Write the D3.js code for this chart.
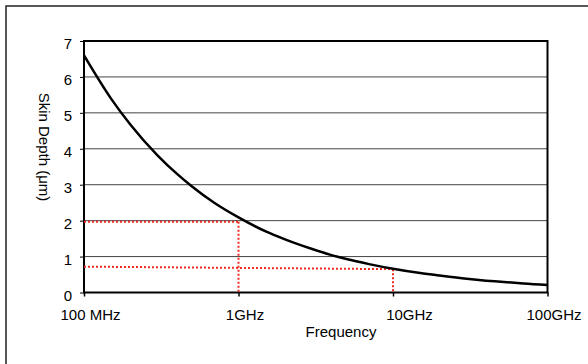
<!DOCTYPE html>
<html>
<head>
<meta charset="utf-8">
<script src="https://cdn.jsdelivr.net/npm/d3@7"></script>
<style>
  body { margin: 0; background: #fff; }
  svg { display: block; font-family: "Liberation Sans", Arial, sans-serif; }
</style>
</head>
<body>
<div id="chart"></div>
<script>
// frequency in GHz, skin depth in um
const freqGHz = [0.1, 0.15, 0.2, 0.3, 0.4, 0.5, 0.7, 1, 1.5, 2, 3, 4, 5, 7, 10, 15, 20, 30, 40, 50, 70, 100];
const depthUm = [6.6, 5.39, 4.67, 3.81, 3.3, 2.95, 2.49, 2.09, 1.7, 1.48, 1.21, 1.04, 0.93, 0.79, 0.66, 0.54, 0.47, 0.38, 0.33, 0.3, 0.25, 0.21];

const xTicks = [0.1, 1, 10, 100];
const xTickLabels = ['100 MHz', '1GHz', '10GHz', '100GHz'];
const yTicks = [0, 1, 2, 3, 4, 5, 6, 7];

// red dotted read-off guides: [freq at start, depth at start, freq at end, depth at end]
const guides = [
  [0.1, 1.97, 1, 1.97],
  [1, 1.97, 1, 0],
  [0.1, 0.72, 10, 0.65],
  [10, 0.65, 10, 0]
];

const W = 588, H = 364;
const svg = d3.select('#chart').append('svg')
  .attr('width', W)
  .attr('height', H);

svg.append('rect').attr('width', W).attr('height', H).attr('fill', '#fff');

// outer chart frame (runs off the right/bottom edge)
svg.append('rect')
  .attr('x', 6).attr('y', 6)
  .attr('width', 700).attr('height', 500)
  .attr('fill', 'none')
  .attr('stroke', '#222')
  .attr('stroke-width', 1.5);

const x = d3.scaleLog().domain([0.1, 100]).range([84, 547.5]);
const y = d3.scaleLinear().domain([0, 7]).range([292.5, 41]);

// gridlines
svg.append('g')
  .selectAll('line')
  .data(yTicks.filter(d => d > 0 && d < 7))
  .enter()
  .append('line')
  .attr('x1', x(0.1)).attr('x2', x(100))
  .attr('y1', d => y(d)).attr('y2', d => y(d))
  .attr('stroke', '#444')
  .attr('stroke-width', 1);

// y axis
const yAxis = d3.axisLeft(y).tickValues(yTicks).tickFormat(d3.format('d')).tickSize(4).tickPadding(8);
const gy = svg.append('g')
  .attr('transform', `translate(${x(0.1)},0)`)
  .call(yAxis);
gy.select('.domain').remove();
gy.selectAll('.tick line').attr('stroke', '#000');
gy.selectAll('.tick text')
  .attr('font-size', 15)
  .attr('fill', '#000')
  .attr('dy', '0.5em');

// x axis
const labelDx = { '10GHz': 16 };
const xAxis = d3.axisBottom(x)
  .tickValues(xTicks)
  .tickFormat((d, i) => xTickLabels[i])
  .tickSize(4)
  .tickPadding(13);
const gx = svg.append('g')
  .attr('transform', `translate(0,${y(0)})`)
  .call(xAxis);
gx.select('.domain').remove();
gx.selectAll('.tick line').attr('stroke', '#000').attr('stroke-width', 1.5);
gx.selectAll('.tick text')
  .attr('font-size', 15)
  .attr('fill', '#000')
  .attr('dx', (d, i) => labelDx[xTickLabels[i]] || 6);

// plot border
svg.append('rect')
  .attr('x', x(0.1)).attr('y', y(7))
  .attr('width', x(100) - x(0.1))
  .attr('height', y(0) - y(7))
  .attr('fill', 'none')
  .attr('stroke', '#000')
  .attr('stroke-width', 2);

// red guides
svg.append('g')
  .selectAll('line')
  .data(guides)
  .enter()
  .append('line')
  .attr('x1', d => x(d[0])).attr('y1', d => y(d[1]))
  .attr('x2', d => x(d[2])).attr('y2', d => y(d[3]))
  .attr('stroke', '#ee2a22')
  .attr('stroke-width', 2)
  .attr('stroke-dasharray', '2,2');

// curve
const line = d3.line()
  .x((d, i) => x(freqGHz[i]))
  .y(d => y(d))
  .curve(d3.curveMonotoneX);

svg.append('path')
  .datum(depthUm)
  .attr('d', line)
  .attr('fill', 'none')
  .attr('stroke', '#000')
  .attr('stroke-width', 2.5);

// axis titles
svg.append('text')
  .attr('x', 341).attr('y', 337)
  .attr('text-anchor', 'middle')
  .attr('font-size', 15)
  .text('Frequency');

svg.append('text')
  .attr('transform', 'translate(39,147) rotate(90)')
  .attr('text-anchor', 'middle')
  .attr('font-size', 15)
  .text('Skin Depth (μm)');
</script>
</body>
</html>
